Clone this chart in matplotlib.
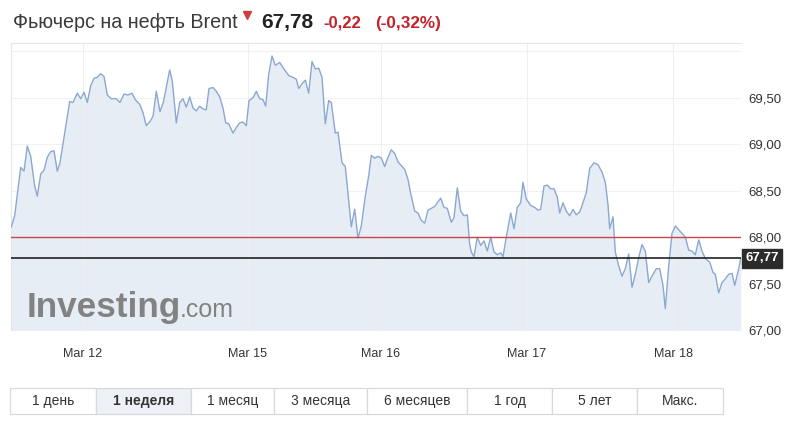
import matplotlib
matplotlib.use("Agg")
import matplotlib.pyplot as plt
from matplotlib.patches import Rectangle
from matplotlib.lines import Line2D

plt.rcParams['font.family'] = ['Liberation Sans', 'DejaVu Sans']

# ---------------- data ----------------
t = [0.3, 3.7, 9.7, 13, 16.3, 19.7, 23.7, 26.3, 29.7, 33, 36.3, 39.7, 43, 46.3, 49, 53, 58.7, 62,
     66.3, 69.7, 73, 76.3, 79.7, 83, 86.3, 89.7, 93, 96.3, 100.3, 105.3, 109, 113, 117, 121,
     124.3, 128.7, 132, 135.3, 138.7, 142, 145.3, 149, 152.3, 158.7, 161.3, 165.3, 168.7, 172,
     175.3, 178.7, 182, 185.3, 188.7, 192, 195.3, 198, 202, 205.3, 208.7, 212, 214.7, 217.7, 222,
     225.3, 228.7, 232, 235.3, 238,
     242, 245.3, 248.7, 252, 254.7, 257.7, 261, 264.3, 268.7, 273, 277.7, 282, 285.3, 287.7, 291,
     294.3, 297.7, 301, 304.3, 307.7, 311, 314.3, 317.7, 320.3, 324.3, 327, 331, 334.3, 340.3,
     343.7, 347, 350.3, 354.3, 357.7,
     360.3, 363.7, 367, 370.3, 373.7, 377, 380.3, 383.7, 387, 390.3, 393.7, 397, 399.7, 403.7, 407,
     410.3, 413.7, 417, 420.3, 423.7, 427, 429.7, 433, 436.3, 440.3, 443, 446.3, 449.7, 453, 456.3,
     458.7, 460.3, 463, 466.3, 469.7, 473, 476.3, 479.7,
     483, 486.3, 489.7, 492, 495.3, 499.7, 503, 506.3, 509.7, 512, 515.3, 519.7, 523.7, 527, 529.7,
     533, 536.3, 539.7, 543, 546.3, 548.7, 552, 555.3, 558.7, 562, 565.3, 568.7, 572, 575.3, 578.7,
     583, 587, 591, 594.3, 597, 598.7, 602,
     604.3, 607.7, 611, 614.3, 617.7, 621, 624.3, 627.7, 631, 634.3, 637.7, 641, 645.3, 648.7, 652,
     654.3, 657.7, 661, 664.3, 667.7, 671, 674.3, 677.7, 681, 684.3, 687.7, 691, 694.3, 698.7, 702,
     704.3, 707.7, 711, 714.3, 717.7, 721, 723.7, 727.7, 729.7]

price = [68.11, 68.23, 68.75, 68.71, 68.98, 68.87, 68.55, 68.44, 68.68, 68.72, 68.86, 68.92, 68.93,
         68.71, 68.80, 69.07, 69.46, 69.45, 69.55, 69.49, 69.56, 69.45, 69.63, 69.71, 69.72, 69.76,
         69.73, 69.53, 69.49, 69.49, 69.45, 69.54, 69.53, 69.55,
         69.48, 69.43, 69.34, 69.20, 69.24, 69.30, 69.57, 69.35, 69.45, 69.80, 69.68, 69.23, 69.45,
         69.49, 69.40, 69.51, 69.39, 69.36, 69.41, 69.38, 69.37, 69.60, 69.61, 69.57, 69.51, 69.39,
         69.23, 69.22, 69.12, 69.18, 69.23, 69.24, 69.20, 69.47,
         69.50, 69.57, 69.49, 69.48, 69.41, 69.75, 69.95, 69.85, 69.88, 69.81, 69.74, 69.72, 69.70,
         69.60, 69.65, 69.69, 69.55, 69.89, 69.81, 69.82, 69.72, 69.22, 69.47, 69.45, 69.12, 69.13,
         68.80, 68.76, 68.11, 68.30, 67.99, 68.12, 68.44, 68.66,
         68.88, 68.85, 68.87, 68.85, 68.76, 68.86, 68.94, 68.90, 68.81, 68.77, 68.73, 68.62, 68.47,
         68.28, 68.26, 68.18, 68.15, 68.29, 68.31, 68.33, 68.38, 68.42, 68.32, 68.31, 68.16, 68.21,
         68.53, 68.28, 68.23, 68.24, 67.92, 67.84, 67.79, 68.00, 67.91, 67.96, 67.85, 68.00,
         67.84, 67.81, 67.83, 67.79, 68.00, 68.26, 68.09, 68.32, 68.37, 68.59, 68.41, 68.34, 68.32,
         68.29, 68.30, 68.55, 68.56, 68.52, 68.52, 68.43, 68.26, 68.37, 68.28, 68.23, 68.30, 68.24,
         68.27, 68.37, 68.48, 68.74, 68.80, 68.78, 68.70, 68.59, 68.35, 68.09, 68.22,
         67.84, 67.69, 67.58, 67.66, 67.82, 67.46, 67.60, 67.78, 67.92, 67.85, 67.51, 67.58, 67.66,
         67.66, 67.48, 67.23, 67.69, 68.04, 68.12, 68.08, 68.04, 68.00, 67.86, 67.85, 67.81, 67.97,
         67.85, 67.77, 67.73, 67.62, 67.60, 67.40, 67.51, 67.55, 67.60, 67.61, 67.48, 67.66, 67.77]

prev_close = 68.00
last_price = 67.77
day_ticks = [72, 237, 370, 516, 662]
day_labels = ['Mar 12', 'Mar 15', 'Mar 16', 'Mar 17', 'Mar 18']
y_ticks = [67.0, 67.5, 68.0, 68.5, 69.0, 69.5]
y_labels = ['67,00', '67,50', '68,00', '68,50', '69,00', '69,50']
grid_y = [67.0, 67.5, 68.0, 68.5, 69.0, 69.5, 70.0]

title = 'Фьючерс на нефть Brent'
quote = '67,78'
change = '-0,22'
change_pct = '(-0,32%)'
periods = ['1 день', '1 неделя', '1 месяц', '3 месяца', '6 месяцев', '1 год', '5 лет', 'Макс.']
selected = '1 неделя'

# ---------------- layout ----------------
W, H = 796, 425
fig = plt.figure(figsize=(W / 100, H / 100), dpi=100)
fig.patch.set_facecolor('white')

def fx(px):
    return px / W

def fy(py):
    return 1 - py / H

L, R, T, B = 11, 741, 43, 330
ax = fig.add_axes([fx(L), fy(B), fx(R) - fx(L), fy(T) - fy(B)])
ax.set_facecolor('white')
ax.set_xlim(0, R - L)
ax.set_ylim(67.0, 70.09)

line_col = '#8ba8d1'
fill_col = '#e7edf5'
ax.fill_between(t, price, 66.0, color=fill_col, zorder=1, lw=0)
for gy in grid_y:
    ax.axhline(gy, color='#f1f1f1', lw=0.8, zorder=0.5)
for gx in day_ticks:
    ax.axvline(gx, color='#eceff3', lw=0.8, zorder=1.5)
ax.plot(t, price, color=line_col, lw=1.0, zorder=3)
ax.axhline(prev_close, color='#c9474a', lw=1.0, zorder=4)
ax.axhline(last_price, color='#222222', lw=1.2, zorder=4)

for s in ['right', 'bottom']:
    ax.spines[s].set_visible(False)
for s in ['left', 'top']:
    ax.spines[s].set_color('#e6e6e6')
    ax.spines[s].set_linewidth(0.8)

ax.set_xticks(day_ticks)
ax.set_xticklabels(day_labels)
ax.tick_params(axis='x', length=0, pad=13, labelsize=9, labelcolor='#333333')
ax.yaxis.tick_right()
ax.set_yticks(y_ticks)
ax.set_yticklabels(y_labels)
ax.tick_params(axis='y', length=0, pad=5, labelsize=9.5, labelcolor='#333333')

# last price box
ax.annotate('67,77', xy=(1.0, last_price), xycoords=('axes fraction', 'data'),
            xytext=(3, 0), textcoords='offset points', ha='left', va='center',
            fontsize=9.5, fontweight='bold', color='white', zorder=6,
            bbox=dict(boxstyle='square,pad=0.25', fc='#2b2b2b', ec='#2b2b2b'))

# watermark
fig.text(fx(27), fy(317), 'Investing', fontsize=25.3, fontweight='bold', color='#828282',
         ha='left', va='baseline', zorder=5)
fig.text(fx(180), fy(317), '.com', fontsize=18, color='#828282', ha='left', va='baseline', zorder=5)

# header
fig.text(fx(13), fy(28), title, fontsize=14.2, color='#3a3a3a', ha='left', va='baseline')
fig.add_artist(Line2D([fx(247)], [fy(15)], marker='v', markersize=5.5, color='#d23b3b',
                      transform=fig.transFigure))
fig.text(fx(261), fy(28), quote, fontsize=15, fontweight='bold', color='#222222',
         ha='left', va='baseline')
fig.text(fx(323), fy(28), change, fontsize=12, fontweight='bold', color='#c4232b',
         ha='left', va='baseline')
fig.text(fx(375), fy(28), change_pct, fontsize=12.3, fontweight='bold', color='#c4232b',
         ha='left', va='baseline')

# period buttons
edges = [10, 95.7, 190.7, 274, 367.3, 467.3, 552.3, 637.3, 722.7]
btop, bbot = 388.3, 414.3
for i, lab in enumerate(periods):
    x0, x1 = edges[i], edges[i + 1]
    sel = lab == selected
    fig.add_artist(Rectangle((fx(x0), fy(bbot)), fx(x1) - fx(x0), fy(btop) - fy(bbot),
                             transform=fig.transFigure, fc='#edf1f7' if sel else 'white',
                             ec='#d9d9d9', lw=0.9))
    fig.text(fx((x0 + x1) / 2), fy((btop + bbot) / 2), lab, fontsize=10,
             fontweight='bold' if sel else 'normal', color='#333333',
             ha='center', va='center')

fig.savefig('out.png', dpi=100)
